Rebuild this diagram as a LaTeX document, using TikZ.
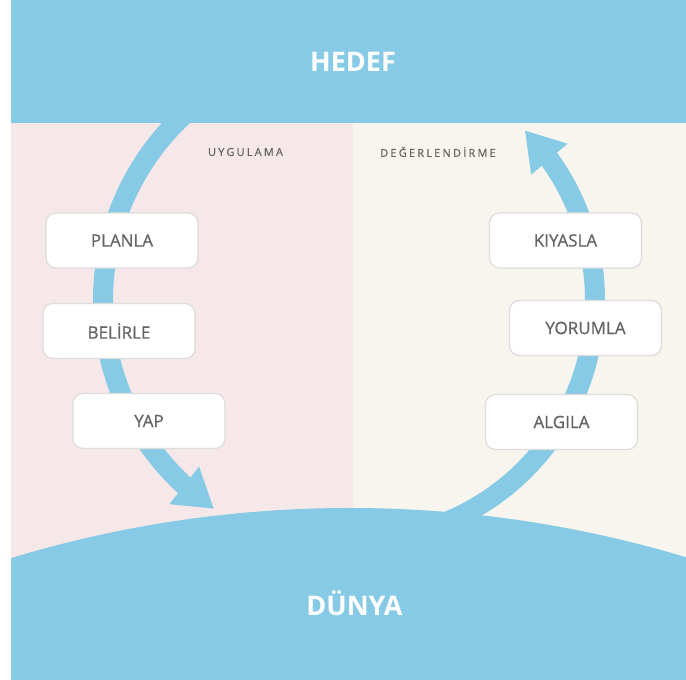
\documentclass[tikz,border=0pt]{standalone}
\usepackage{fontspec}
\setmainfont{Open Sans}
\usetikzlibrary{arrows.meta,bending}
\definecolor{skyb}{RGB}{135,202,230}
\definecolor{pinkbg}{RGB}{246,232,232}
\definecolor{beigebg}{RGB}{248,245,239}
\definecolor{boxline}{RGB}{220,220,220}
\definecolor{txtgrey}{RGB}{100,100,100}
\begin{document}
\begin{tikzpicture}[x=1pt,y=1pt,
 stepbox/.style={draw=boxline, line width=1.2pt, fill=white, rounded corners=10pt,
   minimum width=152pt, minimum height=55pt, text=txtgrey,
   font=\fontsize{17}{20}\selectfont\addfontfeature{FakeBold=0.7}, inner sep=0pt},
 title/.style={text=white, font=\bfseries\fontsize{27}{30}\selectfont},
 colhead/.style={text=txtgrey, font=\fontsize{11}{13}\selectfont\addfontfeature{LetterSpace=20,FakeBold=0.8}},
 cyclearrow/.style={draw=skyb, line width=20pt, -{Triangle[length=38pt,width=45pt]}}
]
\useasboundingbox (0,0) rectangle (686,680);
\fill[white] (0,0) rectangle (686,680);
\fill[pinkbg] (11,0) rectangle (353,557);
\fill[beigebg] (353,0) rectangle (686,557);
\coordinate (c) at (355,380);
\coordinate (lstart) at ([shift={(125:252)}]c);
\coordinate (rstart) at ([shift={(-68:240)}]c);
\draw[cyclearrow] (lstart) arc[start angle=125, end angle=236, radius=252];
\draw[cyclearrow] (rstart) arc[start angle=-68, end angle=45, radius=240];
\fill[skyb] (11,557) rectangle (686,680);
\begin{scope}
\clip (11,0) rectangle (686,680);
\fill[skyb] (350,-992) circle[radius=1164];
\end{scope}
\node[title] (hedef) at (353,618) {HEDEF};
\node[title] (dunya) at (354.5,77) {DÜNYA};
\node[colhead] (uyg) at (245.5,528) {UYGULAMA};
\node[colhead] (deg) at (438,528) {DEĞERLENDİRME};
\node[stepbox] (planla) at (122,439.5) {PLANLA};
\node[stepbox] (belirle) at (119,349) {BELİRLE};
\node[stepbox] (yap) at (149,259) {YAP};
\node[stepbox] (kiyasla) at (565.5,439.5) {KIYASLA};
\node[stepbox] (yorumla) at (585.5,352) {YORUMLA};
\node[stepbox] (algila) at (561.5,258) {ALGILA};
\end{tikzpicture}
\end{document}
